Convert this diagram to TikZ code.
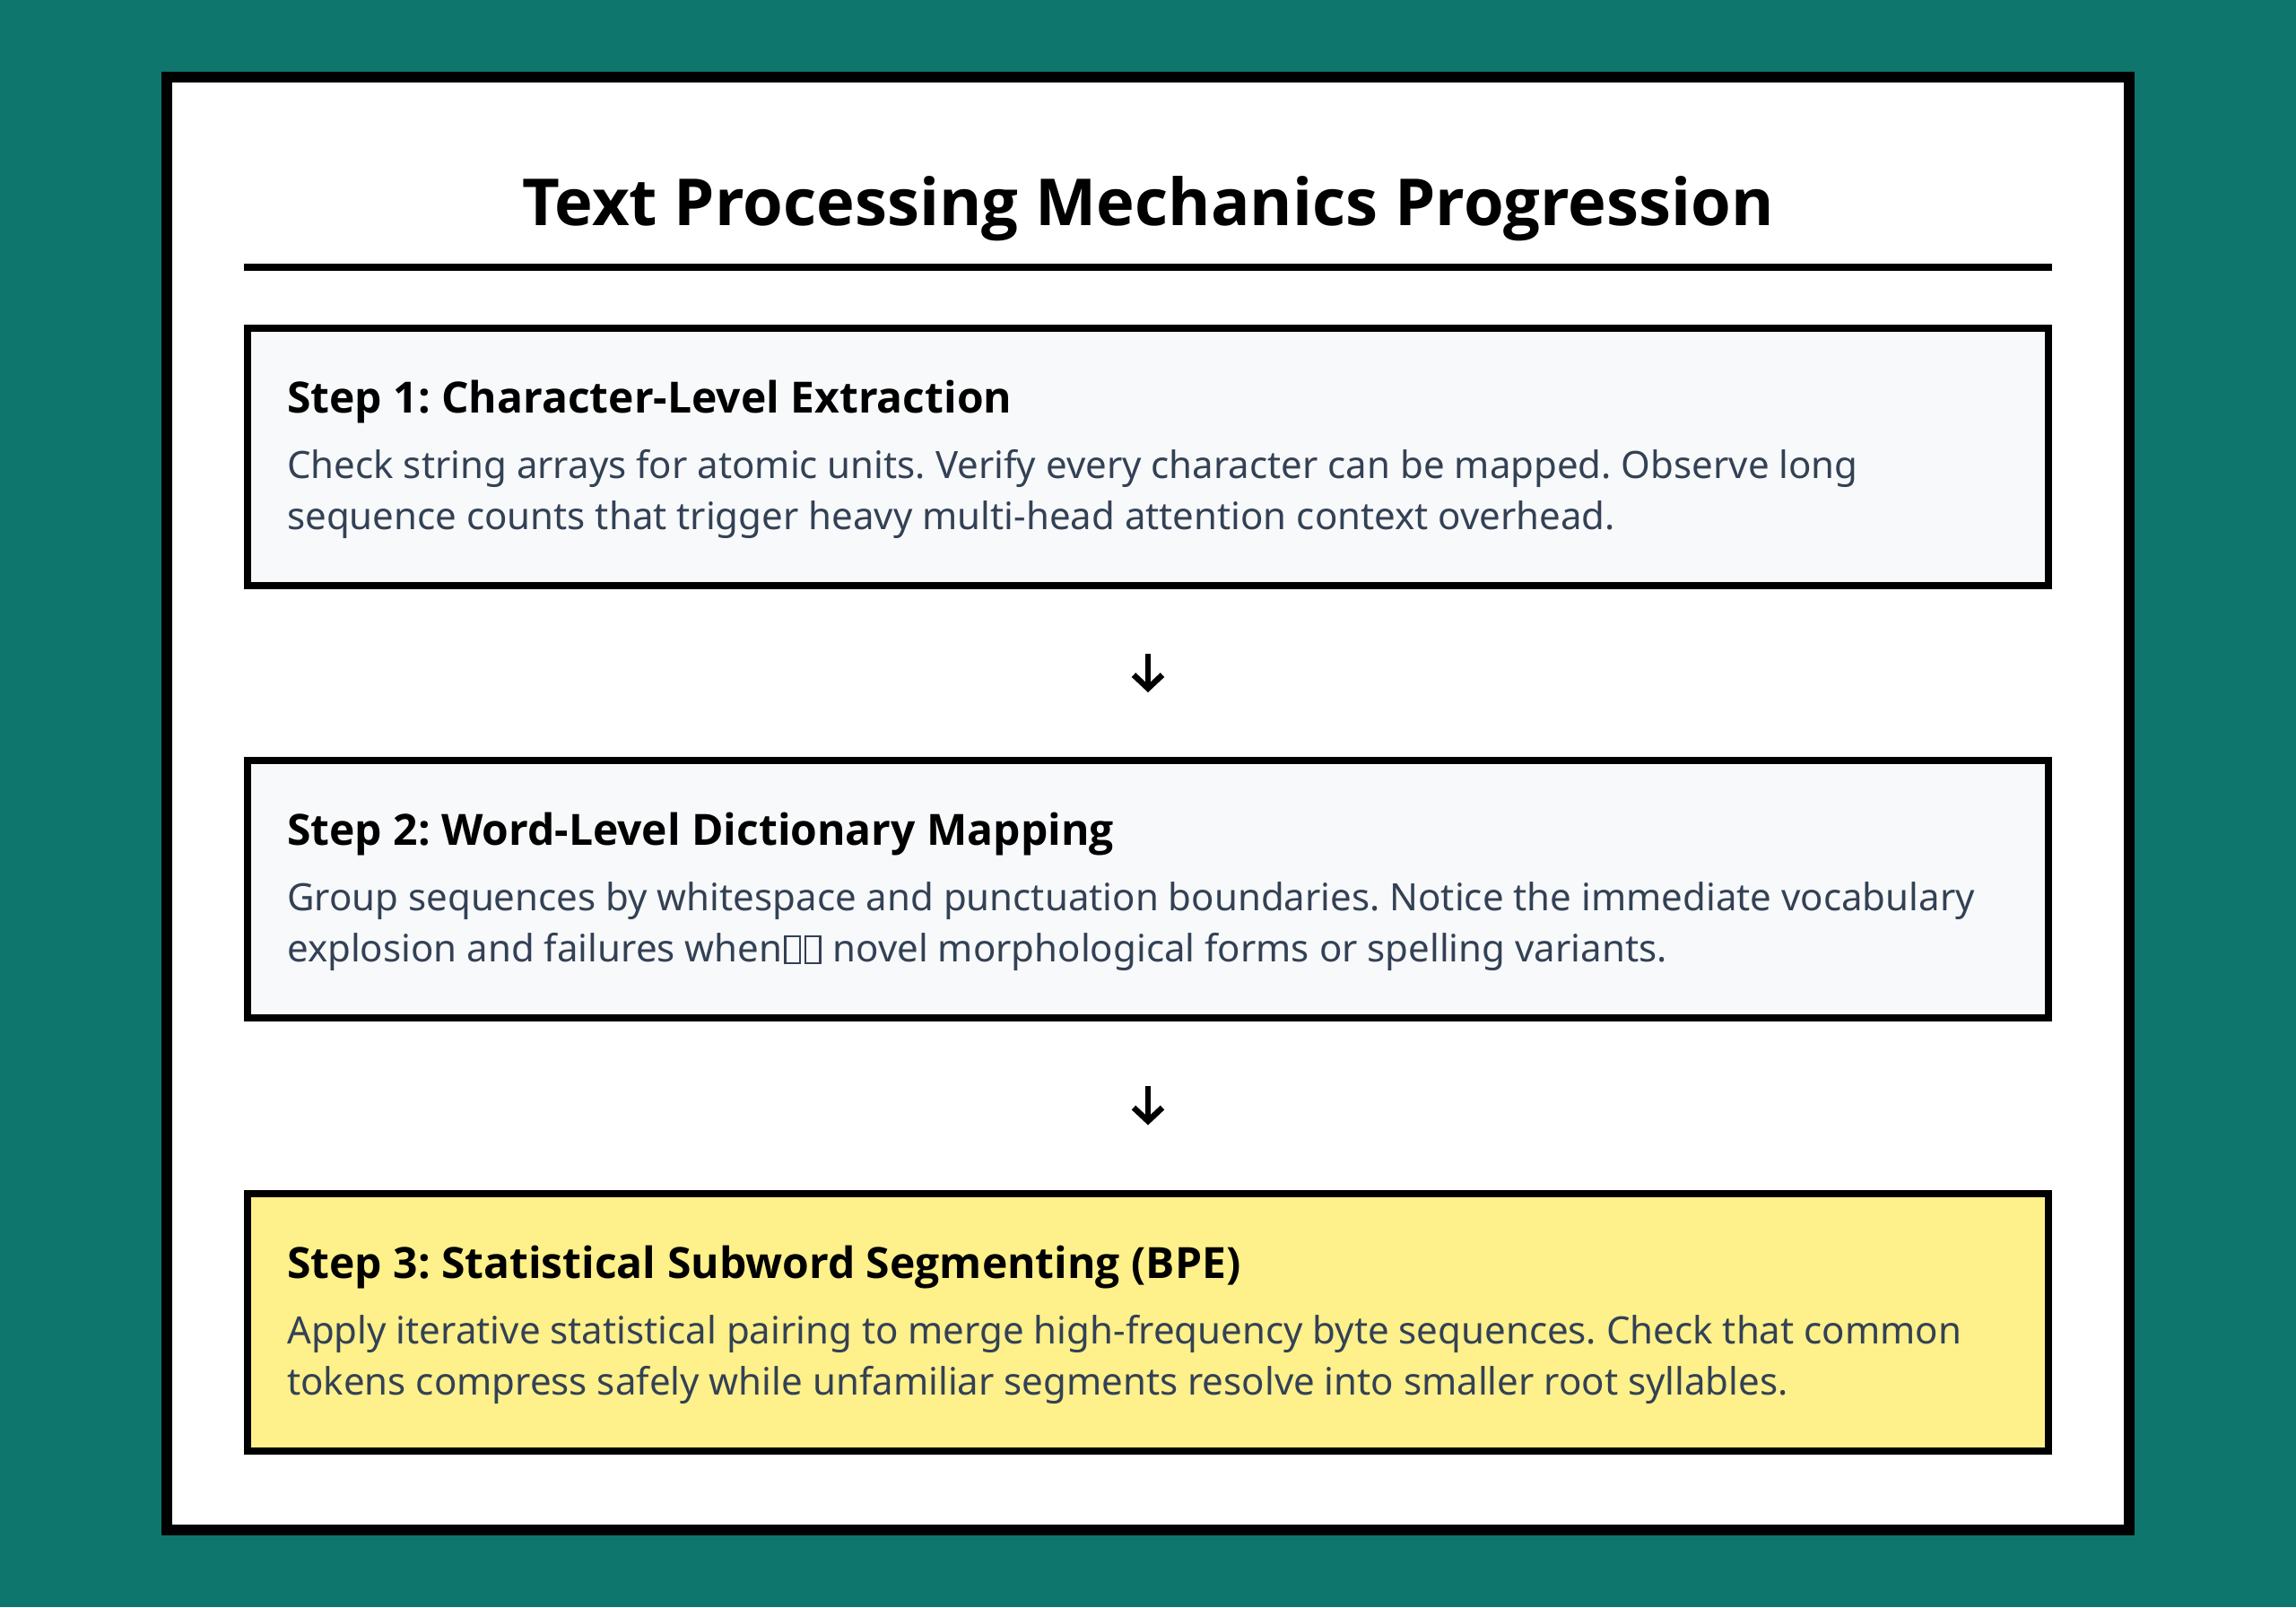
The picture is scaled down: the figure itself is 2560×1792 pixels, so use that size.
\documentclass[tikz,border=0pt]{standalone}
\usepackage{fontspec}
\setmainfont{Noto Sans}
\IfFontExistsTF{NotoSans-Bold.ttf}{\newfontfamily\hdfont{NotoSans-Bold.ttf}}{%
  \IfFontExistsTF{Open Sans Bold}{\newfontfamily\hdfont{Open Sans Bold}}{\newfontfamily\hdfont{Noto Sans}[FakeBold=2.5]}}
\usetikzlibrary{arrows.meta}
\definecolor{bgteal}{HTML}{0F766E}
\definecolor{boxgray}{HTML}{F8F9FA}
\definecolor{boxyellow}{HTML}{FEF08A}
\definecolor{bodytext}{HTML}{334155}
\frenchspacing
\newcommand\tofubox{\kern0.05em{\fboxsep=0pt\fboxrule=0.05em\fbox{\rule{0pt}{0.66em}\rule{0.34em}{0pt}}}\kern0.05em}
\newcommand\bodylines[1]{\parbox[t]{1980pt}{\raggedright\frenchspacing #1}}
\tikzset{
  stepbox/.style={draw=black, line width=8pt, minimum width=2008pt, minimum height=287pt, inner sep=0pt},
  headtext/.style={anchor=base west, inner sep=0pt, text=black, font=\hdfont\fontsize{48}{60}\selectfont\frenchspacing},
  bodytextstyle/.style={anchor=base west, inner sep=0pt, text=bodytext, font=\fontsize{42}{57.5}\selectfont},
  flowarrow/.style={line width=6.5pt, -{Straight Barb[length=15pt,width=32pt,line width=6.5pt]}, shorten <=72pt, shorten >=72pt}
}
\begin{document}
\begin{tikzpicture}[x=1pt,y=-1pt]
\useasboundingbox (0,0) rectangle (2560,1792);
\fill[bgteal] (0,0) rectangle (2560,1792);
\draw[line width=12pt, fill=white] (186,86) rectangle (2374,1706);
\node[anchor=base, inner sep=0pt, font=\hdfont\fontsize{72.3}{90}\selectfont] (title) at (1280,251) {Text Processing Mechanics Progression};
\coordinate (ruleL) at (272,298);
\coordinate (ruleR) at (2288,298);
\draw[line width=8pt] (ruleL) -- (ruleR);

\node[stepbox, fill=boxgray] (s1) at (1280,509.5) {};
\node[stepbox, fill=boxgray] (s2) at (1280,991.5) {};
\node[stepbox, fill=boxyellow] (s3) at (1280,1474) {};

\node[headtext] (h1) at (320,460) {Step 1: Character-Level Extraction};
\node[bodytextstyle] (b1) at (320,533) {\bodylines{Check string arrays for atomic units. Verify every character can be mapped. Observe long\\sequence counts that trigger heavy multi-head attention context overhead.}};

\node[headtext] (h2) at (320,942) {Step 2: Word-Level Dictionary Mapping};
\node[bodytextstyle] (b2) at (320,1015) {\bodylines{Group sequences by whitespace and punctuation boundaries. Notice the immediate vocabulary\\explosion and failures when\tofubox\tofubox{} novel morphological forms or spelling variants.}};

\node[headtext] (h3) at (320,1425) {Step 3: Statistical Subword Segmenting (BPE)};
\node[bodytextstyle] (b3) at (320,1498) {\bodylines{Apply iterative statistical pairing to merge high-frequency byte sequences. Check that common\\tokens compress safely while unfamiliar segments resolve into smaller root syllables.}};

\draw[flowarrow] (s1.south) -- (s2.north);
\draw[flowarrow] (s2.south) -- (s3.north);
\end{tikzpicture}
\end{document}
